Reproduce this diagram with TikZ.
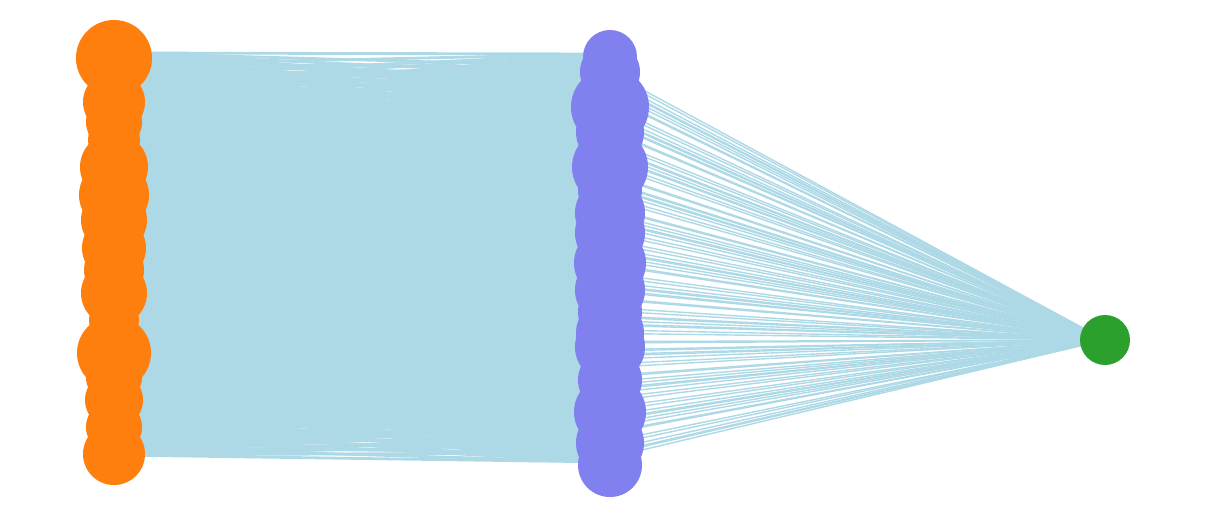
\documentclass[tikz,border=0pt]{standalone}
\definecolor{edgeblue}{RGB}{173,216,230}
\definecolor{orangenode}{RGB}{255,127,14}
\definecolor{purplenode}{RGB}{128,128,238}
\definecolor{greennode}{RGB}{44,160,44}
\pgfdeclarelayer{bg}
\pgfsetlayers{bg,main}
\tikzset{
  edge/.style={draw=edgeblue, line width=0.07cm},
  fanedge/.style={draw=edgeblue, line width=0.035cm},
  onode/.style={circle, fill=orangenode, inner sep=0pt},
  pnode/.style={circle, fill=purplenode, inner sep=0pt},
  gnode/.style={circle, fill=greennode, inner sep=0pt},
}
\begin{document}
\begin{tikzpicture}[x=0.025cm, y=-0.025cm]
\useasboundingbox (0,0) rectangle (1220,519);
% endpoint coordinates
\foreach \i in {0,...,40} {
  \pgfmathsetmacro\ly{53+\i*10.05+mod(\i*7,5)*0.8}
  \coordinate (l\i) at (114, \ly);
}
\foreach \j in {0,...,40} {
  \pgfmathsetmacro\my{54+\j*10.2+mod(\j*3,4)*0.9}
  \coordinate (m\j) at (610, \my);
}
\foreach \j in {0,...,149} {
  \pgfmathsetmacro\yy{72+\j*2.58+mod(\j*7,5)*0.4}
  \coordinate (r\j) at (610, \yy);
}
% left nodes
\foreach \y/\r [count=\k] in {58/38,102/31,122/28,140/26,167/34,195/35,220/33,248/32,270/30,293/33,320/25,353/37,377/28,400/29,427/28,454/31}
  \node[onode, minimum size=\r*0.05cm] (a\k) at (114,\y) {};
% middle nodes
\foreach \y/\r [count=\k] in {57/27,72/30,107/39,132/34,167/38,190/32,213/35,233/35,263/36,290/35,312/32,333/34,347/35,380/32,412/36,443/34,465/32}
  \node[pnode, minimum size=\r*0.05cm] (b\k) at (610,\y) {};
\node[gnode, minimum size=50*0.025cm] (g) at (1105,340) {};
\begin{pgfonlayer}{bg}
% left-middle edges
\foreach \i in {0,...,40} {
  \foreach \j in {0,...,40} {
    \draw[edge] (l\i) -- (m\j);
  }
}
% middle-green edges
\foreach \j in {0,...,149} {
  \pgfmathtruncatemacro\q{mod(\j,13)}
  \pgfmathtruncatemacro\t{mod(\q*\q+3*\j,13)}
  \ifnum\t<7 \draw[fanedge] (r\j) -- (g.center); \fi
}
\end{pgfonlayer}
\end{tikzpicture}
\end{document}
